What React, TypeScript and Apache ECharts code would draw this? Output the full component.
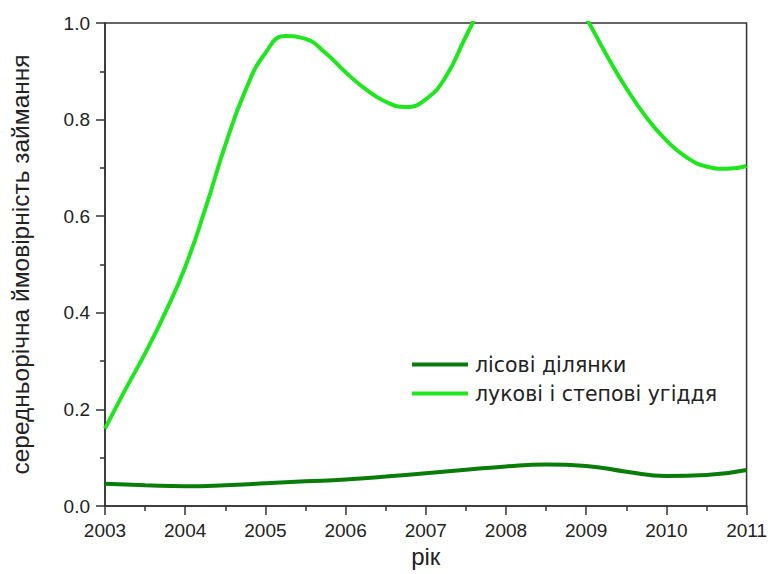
import React, { useEffect, useRef } from "react";
import * as echarts from "echarts";

const seriesNames = ["лісові ділянки", "лукові і степові угіддя"];

// [year, value] readings from the reference curves
const forestYears = [2003, 2003.5, 2004, 2004.5, 2005, 2005.5, 2006, 2006.5, 2007, 2007.5, 2008, 2008.5, 2009, 2009.5, 2010, 2010.5, 2011];
const forestValues = [0.046, 0.043, 0.041, 0.043, 0.047, 0.051, 0.055, 0.061, 0.068, 0.075, 0.082, 0.086, 0.083, 0.071, 0.062, 0.064, 0.0745];

const meadowYears = [
  2003, 2003.25, 2003.5, 2003.75, 2004, 2004.25, 2004.5, 2004.75, 2005, 2005.25, 2005.5, 2005.75,
  2006, 2006.25, 2006.5, 2006.75, 2007, 2007.25, 2007.5, 2007.75, 2008, 2008.25, 2008.5, 2008.75,
  2009, 2009.25, 2009.5, 2009.75, 2010, 2010.25, 2010.5, 2010.75, 2011,
];
const meadowValues = [
  0.16, 0.24, 0.316, 0.4, 0.495, 0.615, 0.747, 0.86, 0.938, 0.973, 0.967, 0.938,
  0.898, 0.863, 0.837, 0.826, 0.842, 0.889, 0.972, 1.05, 1.1, 1.13, 1.12, 1.075,
  1.01, 0.935, 0.865, 0.805, 0.757, 0.722, 0.703, 0.698, 0.704,
];

const xTicks = { min: 2003, max: 2011, interval: 1 };
const yTicks = { min: 0, max: 1, interval: 0.2 };

const xTitle = "рік";
const yTitle = "середньорічна ймовірність займання";

const FONT = 'Arial, "Liberation Sans", sans-serif';
const LEGEND_FONT = 'Verdana, "DejaVu Sans", sans-serif';
const TEXT = "#222222";
const AXIS = "#333333";
const DARK = "#0a7c0a";
const LIGHT = "#20e620";

const pair = (xs: number[], ys: number[]) => xs.map((x, i) => [x, ys[i]]);

export default function App() {
  const ref = useRef<HTMLDivElement>(null);
  useEffect(() => {
    if (!ref.current) return;
    const chart = echarts.init(ref.current, null, { renderer: "svg" });
    chart.setOption({
      animation: false,
      backgroundColor: "#ffffff",
      grid: {
        left: 98,
        right: 22,
        top: 23,
        bottom: 68,
        show: true,
        borderColor: AXIS,
        borderWidth: 1.5,
        backgroundColor: "transparent",
      },
      legend: {
        orient: "vertical",
        left: 407,
        top: 349,
        itemWidth: 56,
        itemHeight: 4,
        itemGap: 8,
        icon: "rect",
        textStyle: { fontFamily: LEGEND_FONT, fontSize: 20.5, color: TEXT, padding: [0, 0, 0, 2] },
        data: [
          { name: seriesNames[0], itemStyle: { color: DARK } },
          { name: seriesNames[1], itemStyle: { color: LIGHT } },
        ],
      },
      xAxis: {
        type: "value",
        min: xTicks.min,
        max: xTicks.max,
        interval: xTicks.interval,
        name: xTitle,
        nameLocation: "middle",
        nameGap: 27,
        nameTextStyle: { fontFamily: FONT, fontSize: 24, color: TEXT },
        axisLine: { lineStyle: { color: AXIS, width: 1.5 } },
        axisTick: { length: 9, lineStyle: { color: AXIS, width: 1.5 } },
        minorTick: { show: true, splitNumber: 2, length: 5, lineStyle: { color: AXIS, width: 1.5 } },
        axisLabel: {
          fontFamily: FONT, fontSize: 19, color: TEXT, margin: 15,
          formatter: (v: number) => String(Math.round(v)),
        },
        splitLine: { show: false },
      },
      yAxis: {
        type: "value",
        min: yTicks.min,
        max: yTicks.max,
        interval: yTicks.interval,
        name: yTitle,
        nameLocation: "middle",
        nameGap: 72,
        nameTextStyle: { fontFamily: FONT, fontSize: 24.5, color: TEXT },
        axisLine: { lineStyle: { color: AXIS, width: 1.5 } },
        axisTick: { length: 9, lineStyle: { color: AXIS, width: 1.5 } },
        minorTick: { show: true, splitNumber: 2, length: 5, lineStyle: { color: AXIS, width: 1.5 } },
        axisLabel: {
          fontFamily: FONT, fontSize: 19, color: TEXT, margin: 15,
          formatter: (v: number) => v.toFixed(1),
        },
        splitLine: { show: false },
      },
      series: [
        {
          name: seriesNames[0],
          type: "line",
          data: pair(forestYears, forestValues),
          smooth: 0.5,
          showSymbol: false,
          symbol: "none",
          clip: true,
          lineStyle: { color: DARK, width: 4 },
          itemStyle: { color: DARK },
        },
        {
          name: seriesNames[1],
          type: "line",
          data: pair(meadowYears, meadowValues),
          smooth: 0.5,
          showSymbol: false,
          symbol: "none",
          clip: true,
          lineStyle: { color: LIGHT, width: 4 },
          itemStyle: { color: LIGHT },
        },
      ],
    });
    return () => chart.dispose();
  }, []);
  return (
    <div
      ref={ref}
      style={{ position: "absolute", left: 0, top: 0, width: 770, height: 574, background: "#fff" }}
    />
  );
}
